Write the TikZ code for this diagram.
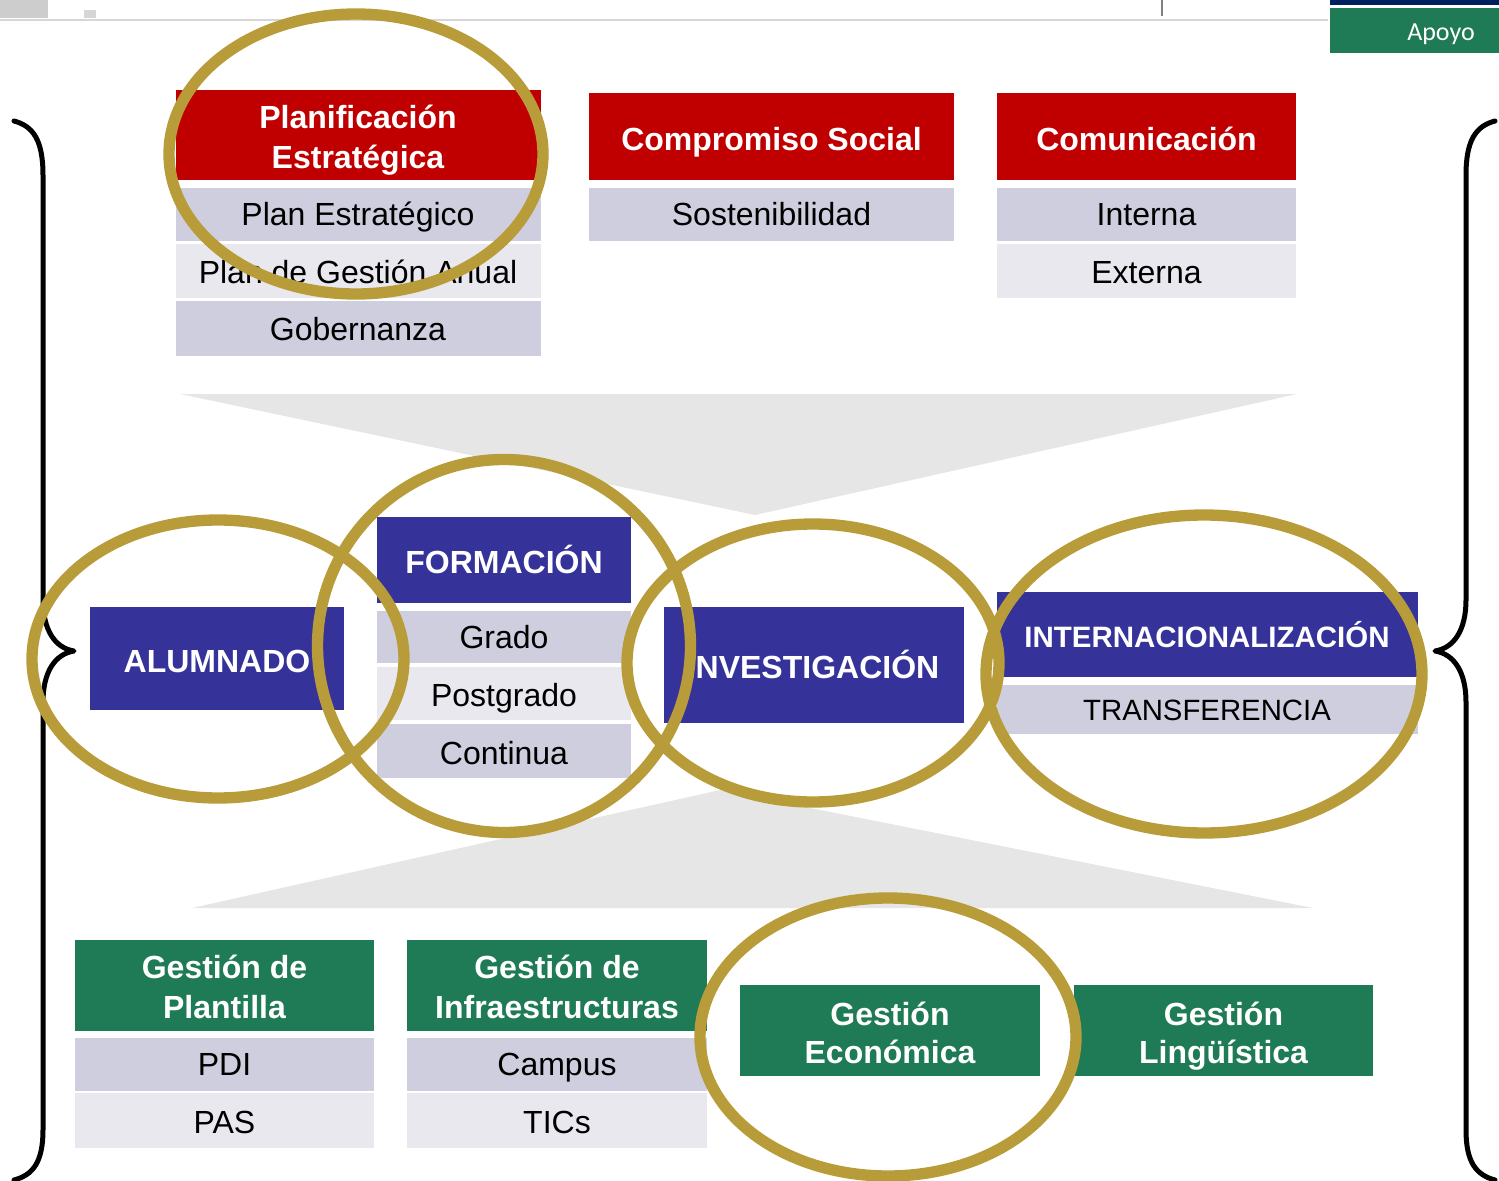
\documentclass[tikz,border=0pt]{standalone}
\usepackage{fontspec}
\setmainfont{Liberation Sans}
\newfontfamily\calibrifont{Carlito}

\definecolor{rojoUni}{RGB}{192,0,0}
\definecolor{azulUni}{RGB}{53,51,153}
\definecolor{verdeUni}{RGB}{31,123,85}
\definecolor{marino}{RGB}{0,32,96}
\definecolor{oro}{RGB}{185,156,58}
\definecolor{filaOsc}{RGB}{206,206,222}
\definecolor{filaClara}{RGB}{232,232,238}
\definecolor{cuna}{RGB}{230,230,230}
\definecolor{grisBarra}{RGB}{214,214,214}

\tikzset{
  titulo/.style={anchor=base, text=white, font=\fontsize{24}{29.5}\selectfont\bfseries, align=center, inner sep=0.75pt},
  item/.style={anchor=base, text=black, font=\fontsize{24}{28}\selectfont, inner sep=0.75pt},
  anillo/.style={draw=oro, line width=8.5},
  llave/.style={line width=3.75, line join=round, line cap=round},
}

\begin{document}
\begin{tikzpicture}[x=0.75pt,y=0.75pt,yscale=-1,xscale=1]
\useasboundingbox (0,0) rectangle (1499,1181);

%Shape: top bar
\fill [grisBarra!90!gray] (0,0) rectangle (48,18) ;
\fill [grisBarra] (84,10) rectangle (96,18) ;
\draw [grisBarra, line width=1.5] (0,20) -- (1328,20) ;
\draw [gray, line width=1.1] (1162,0) -- (1162,16) ;
\fill [marino] (1330,0) rectangle (1499,5) ;
\fill [verdeUni] (1330,8) rectangle (1499,53) ;
% Text Node
\draw (1441,41) node [anchor=base, text=white, font=\calibrifont\fontsize{19.5}{22}\selectfont] (apoyo) {Apoyo};

%Shape: wedges
\fill [cuna] (180,394) -- (1297,394) -- (755,515) -- cycle ;
\fill [cuna] (192,908) -- (1313,908) -- (720,790) -- cycle ;

%Shape: Rectangle [top row]
\fill [rojoUni] (176,90) rectangle (541,180) ;
\fill [filaOsc] (176,188) rectangle (541,241) ;
\fill [filaClara] (176,244) rectangle (541,298) ;
\fill [filaOsc] (176,301) rectangle (541,356) ;
\fill [rojoUni] (589,93) rectangle (954,180) ;
\fill [filaOsc] (589,188) rectangle (954,241) ;
\fill [rojoUni] (997,93) rectangle (1296,180) ;
\fill [filaOsc] (997,188) rectangle (1296,241) ;
\fill [filaClara] (997,244) rectangle (1296,298) ;

% Text Node (two-line titles sit on their last baseline)
\draw (358,168) node [titulo] (planif) {Planificación\\Estratégica};
\draw (358,225) node [item] (planEstr) {Plan Estratégico};
\draw (358,283) node [item] (planAnual) {Plan de Gestión Anual};
\draw (358,340) node [item] (gobern) {Gobernanza};
\draw (771.5,150) node [titulo] (compromiso) {Compromiso Social};
\draw (771.5,225) node [item] (sostenib) {Sostenibilidad};
\draw (1146.5,150) node [titulo] (comunic) {Comunicación};
\draw (1146.5,225) node [item] (interna) {Interna};
\draw (1146.5,283) node [item] (externa) {Externa};

%Shape: Rectangle [middle row]
\fill [azulUni] (90,607) rectangle (344,710) ;
\fill [azulUni] (377,517) rectangle (631,603) ;
\fill [filaOsc] (377,611) rectangle (631,663) ;
\fill [filaClara] (377,667) rectangle (631,720) ;
\fill [filaOsc] (377,724) rectangle (631,778) ;
\fill [azulUni] (664,607) rectangle (964,723) ;
\fill [azulUni] (997,592) rectangle (1418,677) ;
\fill [filaOsc] (997,685) rectangle (1418,734) ;

% Text Node
\draw (217,672) node [titulo] (alumnado) {ALUMNADO};
\draw (504,573) node [titulo] (formacion) {FORMACIÓN};
\draw (504,648) node [item] (grado) {Grado};
\draw (504,706) node [item] (postgrado) {Postgrado};
\draw (504,764) node [item] (continua) {Continua};
\draw (813,678) node [titulo] (investig) {INVESTIGACIÓN};
\draw (1207,647) node [titulo, font=\fontsize{22.1}{26}\selectfont\bfseries] (internac) {INTERNACIONALIZACIÓN};
\draw (1207,720) node [item, font=\fontsize{22}{26}\selectfont] (transfer) {TRANSFERENCIA};

%Shape: Rectangle [bottom row]
\fill [verdeUni] (75,940) rectangle (374,1031) ;
\fill [filaOsc] (75,1038) rectangle (374,1091) ;
\fill [filaClara] (75,1093) rectangle (374,1148) ;
\fill [verdeUni] (407,940) rectangle (707,1031) ;
\fill [filaOsc] (407,1038) rectangle (707,1091) ;
\fill [filaClara] (407,1093) rectangle (707,1148) ;
\fill [verdeUni] (740,985) rectangle (1040,1076) ;
\fill [verdeUni] (1074,985) rectangle (1373,1076) ;

% Text Node
\draw (224.5,1018) node [titulo] (plantilla) {Gestión de\\Plantilla};
\draw (224.5,1075) node [item] (pdi) {PDI};
\draw (224.5,1133) node [item] (pas) {PAS};
\draw (557,1018) node [titulo] (infraest) {Gestión de\\Infraestructuras};
\draw (557,1075) node [item] (campus) {Campus};
\draw (557,1133) node [item] (tics) {TICs};
\draw (890,1063) node [titulo, font=\fontsize{24}{28.5}\selectfont\bfseries] (economica) {Gestión\\Económica};
\draw (1223.5,1063) node [titulo, font=\fontsize{24}{28.5}\selectfont\bfseries] (linguist) {Gestión\\Lingüística};

%Shape: braces
\draw [llave] (14,121) .. controls (33,126) and (43,140) .. (43,175) -- (43,600) .. controls (43,630) and (55,648) .. (74,651) .. controls (55,654) and (43,672) .. (43,702) -- (43,1130) .. controls (43,1162) and (33,1175) .. (14,1180) ;
\draw [llave] (1495,121) .. controls (1476,126) and (1466,140) .. (1466,175) -- (1466,600) .. controls (1466,630) and (1454,648) .. (1435,651) .. controls (1454,654) and (1466,672) .. (1466,702) -- (1466,1130) .. controls (1466,1162) and (1476,1175) .. (1495,1180) ;

%Shape: Ellipse [gold rings]
\draw [anillo] (356,154) ellipse [x radius=187, y radius=140] ;
\draw [anillo] (218,659) ellipse [x radius=186, y radius=139] ;
\draw [anillo] (504,646) circle [radius=186.5] ;
\draw [anillo] (813,663) ellipse [x radius=186, y radius=139] ;
\draw [anillo] (1204,674) ellipse [x radius=218, y radius=159] ;
\draw [anillo] (888,1037) ellipse [x radius=188, y radius=139] ;

\end{tikzpicture}
\end{document}
